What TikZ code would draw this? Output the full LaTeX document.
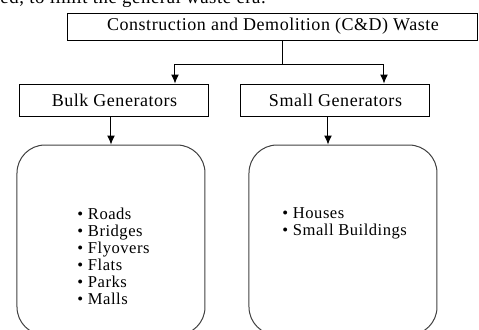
\documentclass[tikz,border=0pt]{standalone}
\usepackage{fontspec}
\setmainfont{Liberation Serif}[LetterSpace=3]
\usepackage{tikz}
\usetikzlibrary{arrows.meta}
\usetikzlibrary{calc}
\usetikzlibrary{positioning}

\begin{document}
\begin{tikzpicture}[
  x=0.5pt, y=-0.5pt,
  > = {Latex[length=4.5pt,width=4pt]},
  line width=0.5pt,
  headbox/.style = {draw,minimum width=205pt,minimum height=13.5pt,inner sep=0pt,font=\fontsize{9}{10}\selectfont},
  genbox/.style = {draw,minimum width=94.5pt,minimum height=16pt,inner sep=0pt,font=\fontsize{9}{10}\selectfont},
  listbox/.style = {draw=black!75,rounded corners=14pt,minimum width=94pt,minimum height=95pt,inner sep=0pt},
  items/.style = {align=left,inner sep=0pt,font=\fontsize{8.3}{8.5}\selectfont}
  ]
	\useasboundingbox (0,0) rectangle (479,329);

	\node[anchor=base west,inner sep=0pt,font=\fontsize{9.4}{12}\selectfont] (cut) at (0,3) {ed, to limit the general waste era.};

	\node[headbox] (waste) at (273,26.5) {Construction and Demolition (C\&D) Waste};
	\node[genbox] (bulk) at (114.5,100) {Bulk Generators};
	\node[genbox] (small) at (335.5,100) {Small Generators};

	\node[listbox] (bulklist) at (111,240) {};
	\node[listbox] (smalllist) at (343,240) {};

	\node[items,anchor=north west] (bulkitems) at (77,207) {\textbullet\ Roads\\ \textbullet\ Bridges\\ \textbullet\ Flyovers\\ \textbullet\ Flats\\ \textbullet\ Parks\\ \textbullet\ Malls};
	\node[items,anchor=north west] (smallitems) at (282,207) {\textbullet\ Houses\\ \textbullet\ Small Buildings};

	\coordinate (@s) at (283,64);
	\coordinate (@l) at (175,64);
	\coordinate (@r) at (384,64);

	\draw (waste.south -| @s) -- (@s);
	\draw (@l) -- (@r);
	\draw[->] (@l) -- (@l |- bulk.north);
	\draw[->] (@r) -- (@r |- small.north);

	\draw[->] (bulk.south -| bulklist.north) -- (bulklist.north);
	\draw[->] ($(small.south)+(-7.5,0)$) -- ($(smalllist.north)+(-15,0)$);

\end{tikzpicture}
\end{document}
